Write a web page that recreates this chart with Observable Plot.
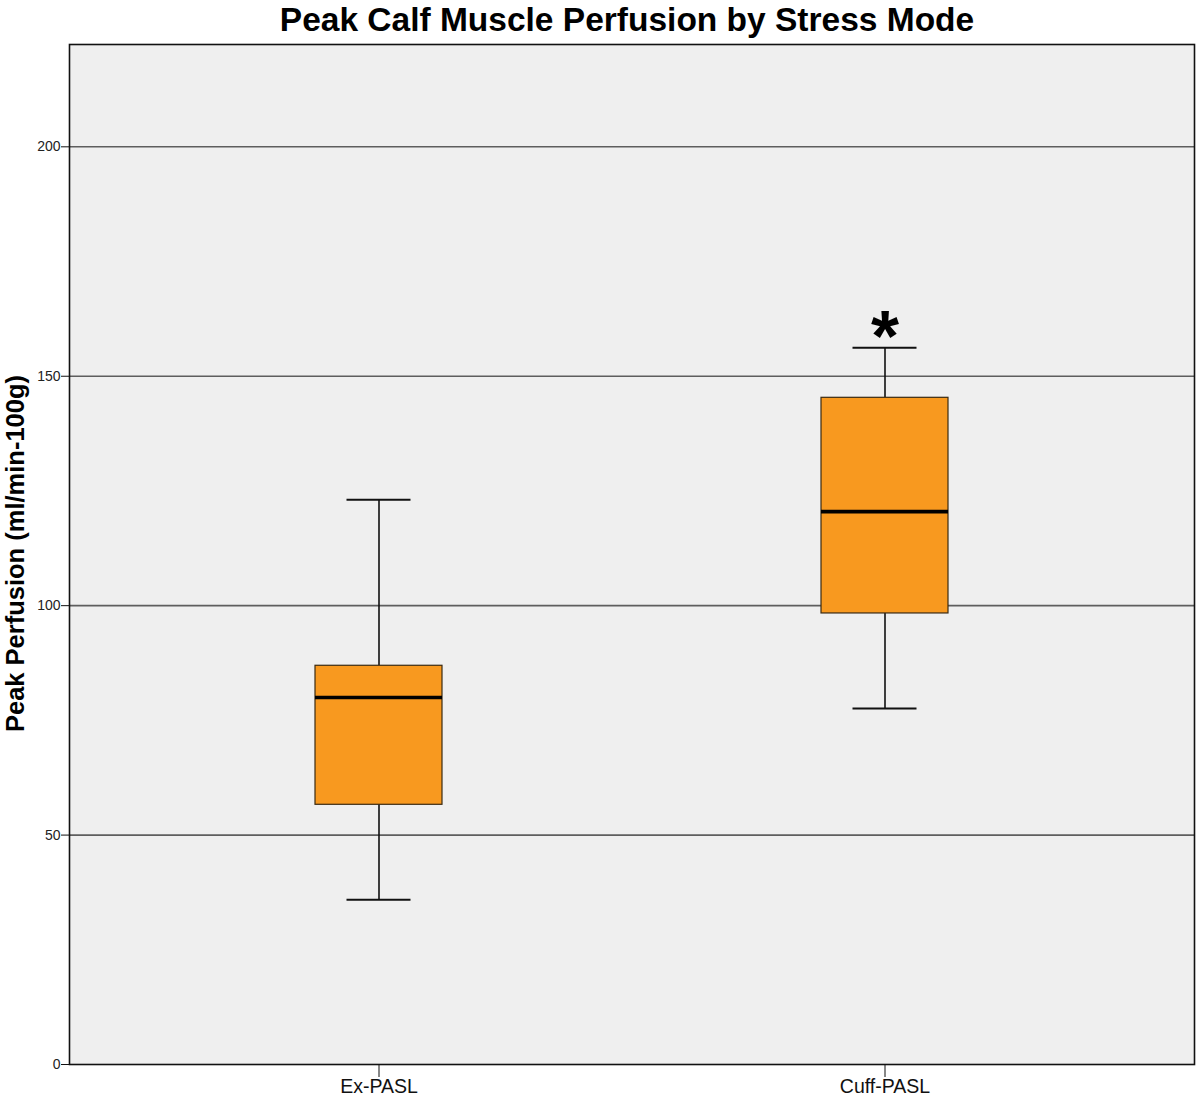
<!DOCTYPE html>
<html>
<head>
<meta charset="utf-8">
<script src="https://cdn.jsdelivr.net/npm/d3@7"></script>
<script src="https://cdn.jsdelivr.net/npm/@observablehq/plot@0.6"></script>
<style>
  html, body { margin: 0; padding: 0; background: #ffffff; }
  #chart svg { display: block; }
</style>
</head>
<body>
<div id="chart"></div>
<script>
// ---- data ----
const categories = ["Ex-PASL", "Cuff-PASL"];
const whiskerLow  = [35.9, 77.6];
const q1          = [56.6, 98.3];
const median      = [80.0, 120.5];
const q3          = [86.9, 145.3];
const whiskerHigh = [123.1, 156.2];
const extremeCategories = ["Cuff-PASL"];
const extremeValues     = [160.3];
const yTicks = [0, 50, 100, 150, 200];
const gridValues = [50, 100, 150, 200];
const yMax = 222.3;
const titleText = "Peak Calf Muscle Perfusion by Stress Mode";
const yLabelText = "Peak Perfusion (ml/min-100g)";

// ---- tables built from the arrays ----
const boxes = categories.map((c, i) => ({
  mode: c, low: whiskerLow[i], q1: q1[i], median: median[i], q3: q3[i], high: whiskerHigh[i]
}));
const extremes = extremeCategories.map((c, i) => ({mode: c, value: extremeValues[i]}));

const font = "'Liberation Sans', Arial, Helvetica, sans-serif";
const orange = "#F8991F";

const chart = Plot.plot({
  width: 1200,
  height: 1098,
  marginTop: 44,
  marginBottom: 34,
  marginLeft: 69,
  marginRight: 6,
  style: {fontFamily: font, background: "#ffffff", color: "#111"},
  x: {type: "band", domain: categories, paddingInner: 0.749, paddingOuter: 0.485, align: 0.5, label: null},
  y: {domain: [0, yMax], label: null},
  marks: [
    Plot.frame({fill: "#EFEFEF", stroke: "none"}),
    Plot.ruleY(gridValues, {stroke: "#5e5e5e", strokeWidth: 1.6}),
    // whiskers
    Plot.ruleX(boxes, {x: "mode", y1: "low", y2: "q1", stroke: "#111", strokeWidth: 1.6}),
    Plot.ruleX(boxes, {x: "mode", y1: "q3", y2: "high", stroke: "#111", strokeWidth: 1.6}),
    Plot.tickY(boxes, {x: "mode", y: "low", stroke: "#111", strokeWidth: 2, insetLeft: 31.5, insetRight: 31.5}),
    Plot.tickY(boxes, {x: "mode", y: "high", stroke: "#111", strokeWidth: 2, insetLeft: 31.5, insetRight: 31.5}),
    // boxes
    Plot.barY(boxes, {x: "mode", y1: "q1", y2: "q3", fill: orange, stroke: "#3a2a12", strokeWidth: 1.2}),
    Plot.tickY(boxes, {x: "mode", y: "median", stroke: "#000", strokeWidth: 3.6}),
    // extreme outlier
    Plot.text(extremes, {x: "mode", y: "value", text: () => "*", fontSize: 72, fontWeight: "bold",
      fill: "#000", lineAnchor: "middle", textAnchor: "middle", dy: 9}),
    Plot.frame({stroke: "#111", strokeWidth: 1.6}),
    // axes
    Plot.axisX({tickSize: 13, tickPadding: 2, fontSize: 19.5, stroke: "#111", fill: "#111", label: null}),
    Plot.axisY({ticks: yTicks, tickSize: 8, tickPadding: 1, fontSize: 14, stroke: "#111", fill: "#222", label: null,
      tickFormat: d3.format("d")}),
    // y label
    Plot.text([yLabelText], {frameAnchor: "left", text: d => d, rotate: -90, dx: -54, dy: -1, fontSize: 25.5,
      fontWeight: "bold", fill: "#000", lineAnchor: "middle", textAnchor: "middle"}),
    // title
    Plot.text([titleText], {frameAnchor: "top", text: d => d, dy: -24.5, dx: -5, fontSize: 33.5,
      fontWeight: "bold", fill: "#000", lineAnchor: "middle", textAnchor: "middle"})
  ]
});
document.getElementById("chart").appendChild(chart);
</script>
</body>
</html>
